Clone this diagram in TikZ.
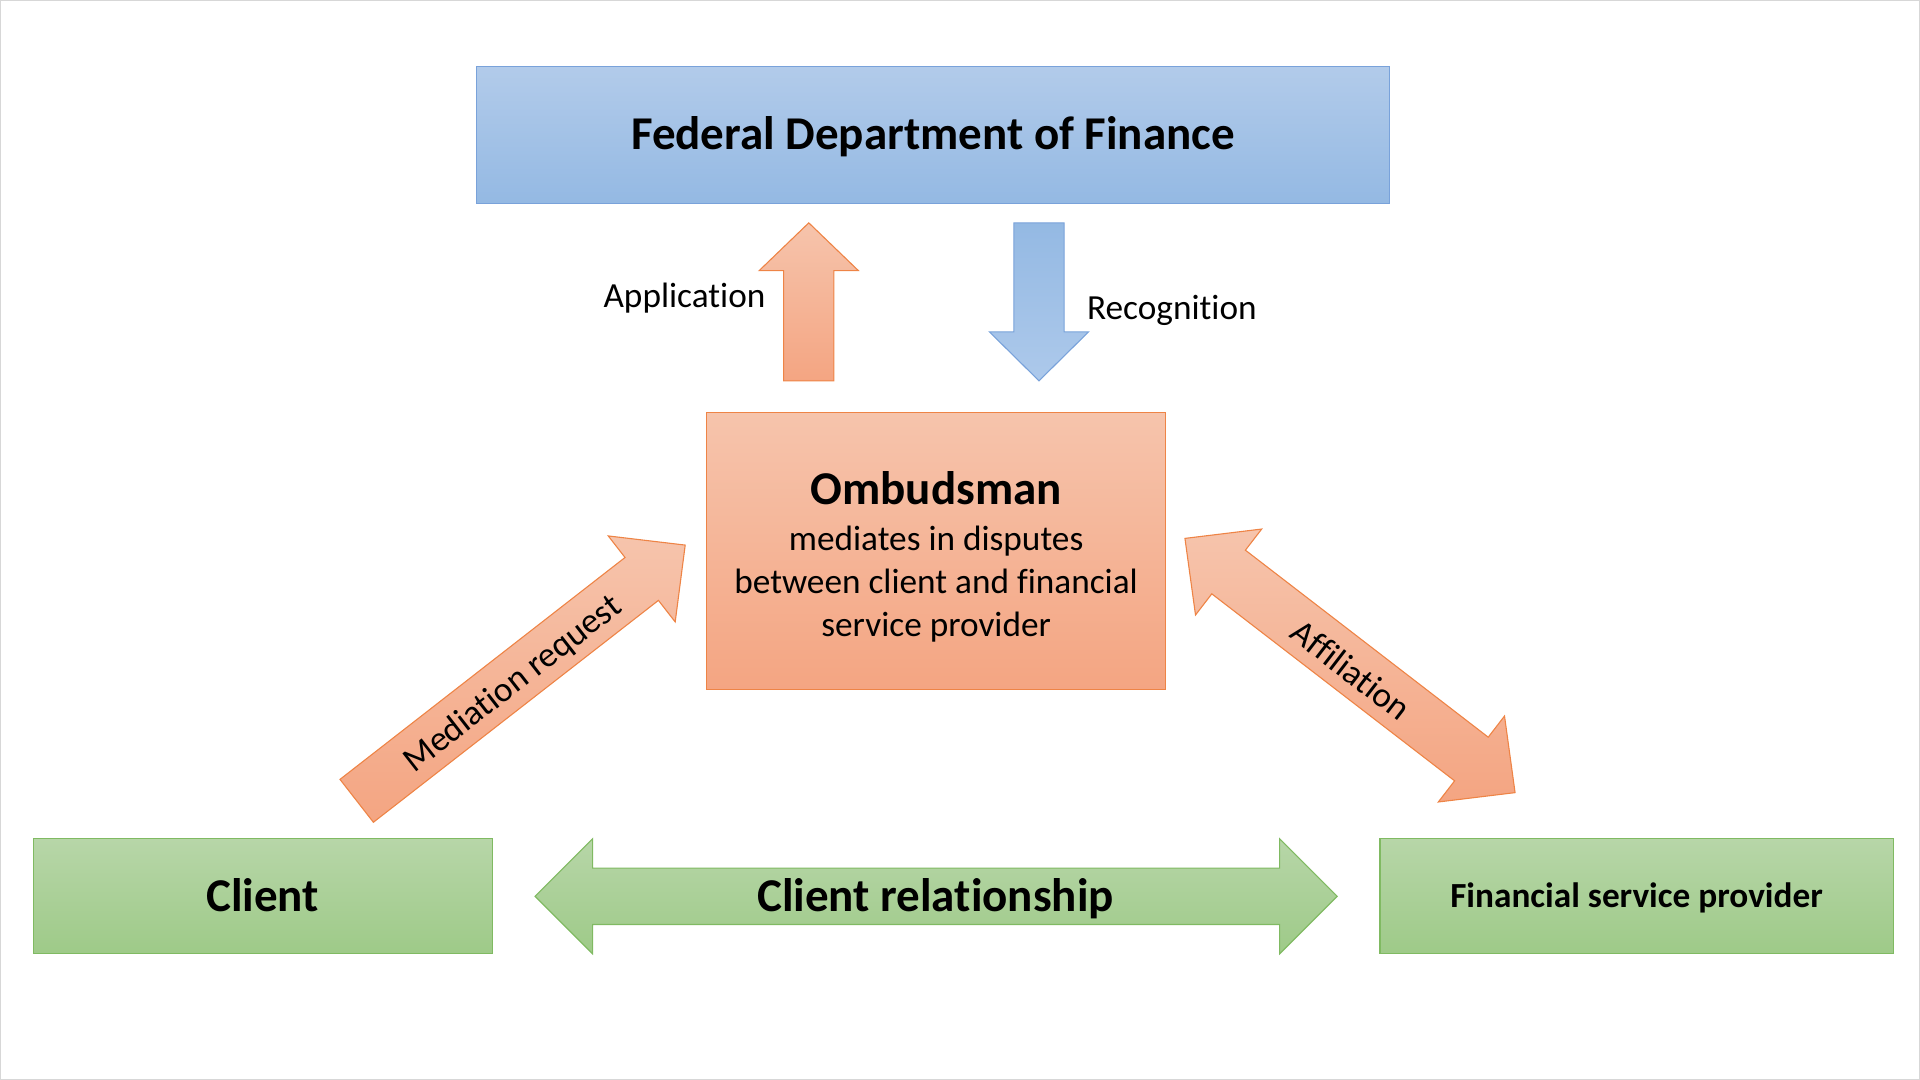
\documentclass[tikz,border=0pt]{standalone}
\usepackage{fontspec}
\setmainfont{Carlito}[Ligatures=NoCommon]
\definecolor{bluetop}{RGB}{178,203,234}
\definecolor{bluebot}{RGB}{148,185,227}
\definecolor{bluelite}{RGB}{173,201,235}
\definecolor{blueline}{RGB}{121,162,218}
\definecolor{orgtop}{RGB}{246,196,172}
\definecolor{orgbot}{RGB}{244,165,130}
\definecolor{orgline}{RGB}{238,132,70}
\definecolor{grntop}{RGB}{183,214,168}
\definecolor{grnbot}{RGB}{158,202,136}
\definecolor{grnline}{RGB}{128,186,98}
\definecolor{frame}{RGB}{215,215,215}
\begin{document}
\begin{tikzpicture}[x=1pt,y=-1pt,
  bigbold/.style={font=\fontsize{38.4}{46}\selectfont\bfseries, text height=24.7pt, text depth=0pt},
  midbold/.style={font=\fontsize{28.8}{35}\selectfont\bfseries, text height=18.5pt, text depth=0pt},
  reg/.style={font=\fontsize{28.8}{35}\selectfont},
  bluebox/.style={rectangle, draw=blueline, line width=0.9pt, top color=bluetop, bottom color=bluebot, inner sep=0pt},
  orgbox/.style={rectangle, draw=orgline, line width=0.9pt, top color=orgtop, bottom color=orgbot, inner sep=0pt},
  grnbox/.style={rectangle, draw=grnline, line width=0.9pt, top color=grntop, bottom color=grnbot, inner sep=0pt},
  orgarrow/.style={draw=orgline, line width=0.9pt, top color=orgtop, bottom color=orgbot, line join=miter},
  bluearrow/.style={draw=blueline, line width=0.9pt, top color=bluebot, bottom color=bluelite, line join=miter},
  grnarrow/.style={draw=grnline, line width=0.9pt, top color=grntop, bottom color=grnbot, line join=miter},
  lbl/.style={reg, inner sep=0pt, text=black},
  caplbl/.style={reg, inner sep=0pt, text=black, text height=18.5pt, text depth=0pt}
]
\useasboundingbox (0,0) rectangle (1568,882);
\draw[frame, line width=0.8pt] (0.5,0.5) rectangle (1567.5,881.5);

% boxes
\node[bluebox, minimum width=746pt, minimum height=112pt, bigbold] (fdf) at (762,110) {Federal Department of Finance};
\node[orgbox, minimum width=375pt, minimum height=226pt] (omb) at (764.5,450) {};
\node[reg, align=center, inner sep=0pt] (ombtext) at (764.5,454.5)
  {{\fontsize{38.4}{46}\selectfont\bfseries Ombudsman}\\[3pt]mediates in disputes\\between client and financial\\service provider};
\node[grnbox, minimum width=375pt, minimum height=94pt, bigbold] (client) at (214.5,732) {Client};
\node[grnbox, minimum width=419pt, minimum height=94pt, midbold] (fsp) at (1336.5,732) {Financial service provider};

% Application arrow (up)
\begin{scope}[shift={(660.5,311)}, rotate=90]
\draw[orgarrow] (0,-20.5) -- (90,-20.5) -- (90,-40.5) -- (129,0) -- (90,40.5) -- (90,20.5) -- (0,20.5) -- cycle;
\end{scope}
% Recognition arrow (down)
\begin{scope}[shift={(848.5,182)}, rotate=-90]
\draw[bluearrow] (0,-20.5) -- (89,-20.5) -- (89,-40.5) -- (129,0) -- (89,40.5) -- (89,20.5) -- (0,20.5) -- cycle;
\end{scope}
% Mediation request arrow
\begin{scope}[shift={(291.3,654)}, rotate=37.9]
\draw[orgarrow] (0,-22.2) -- (295,-22.2) -- (295,-44.5) -- (340,0) -- (295,44.5) -- (295,22.2) -- (0,22.2) -- cycle;
\end{scope}
% Affiliation double arrow
\begin{scope}[shift={(1102.5,543.5)}, rotate=-37.6]
\draw[orgarrow] (-170.15,0) -- (-125.15,-44.3) -- (-125.15,-22.5) -- (125.15,-22.5) -- (125.15,-44.3) -- (170.15,0) -- (125.15,44.3) -- (125.15,22.5) -- (-125.15,22.5) -- (-125.15,44.3) -- cycle;
\end{scope}
% Client relationship double arrow
\begin{scope}[shift={(764.5,732)}]
\draw[grnarrow] (-327.5,0) -- (-280.5,-47) -- (-280.5,-23) -- (280.5,-23) -- (280.5,-47) -- (327.5,0) -- (280.5,47) -- (280.5,23) -- (-280.5,23) -- (-280.5,47) -- cycle;
\end{scope}

% labels
\node[caplbl] (app) at (559,242) {Application};
\node[caplbl] (rec) at (957,252) {Recognition};
\node[lbl, rotate=37.9] (med) at (419,559) {Mediation request};
\node[lbl, rotate=-37.6] (aff) at (1103.5,547) {Affiliation};
\node[bigbold, inner sep=0pt] (rel) at (764,732) {Client relationship};
\end{tikzpicture}
\end{document}
